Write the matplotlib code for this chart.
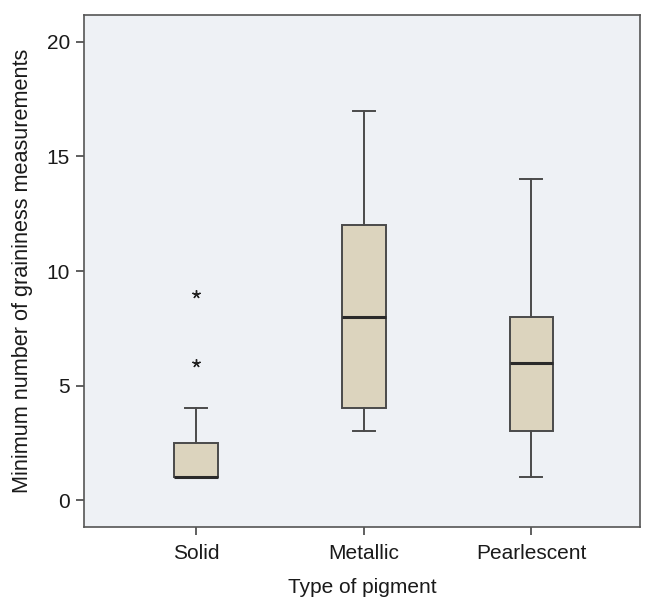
import matplotlib
matplotlib.use("Agg")
import matplotlib.pyplot as plt

plt.rcParams["font.family"] = ["Liberation Sans", "DejaVu Sans"]

categories = ["Solid", "Metallic", "Pearlescent"]
whisker_low = [1, 3, 1]
q1 = [1, 4, 3]
median = [1, 8, 6]
q3 = [2.5, 12, 8]
whisker_high = [4, 17, 14]
outliers = [[6, 9], [], []]
yticks = [0, 5, 10, 15, 20]

fig = plt.figure(figsize=(6.46, 5.97), dpi=100)
ax = fig.add_axes([0.130, 0.117, 0.861, 0.858])
ax.set_facecolor("#eef1f5")

stats = []
for i, c in enumerate(categories):
    stats.append(dict(label=c, whislo=whisker_low[i], q1=q1[i], med=median[i],
                      q3=q3[i], whishi=whisker_high[i], fliers=outliers[i]))

positions = [1, 2, 3]
ax.bxp(stats, positions=positions, widths=0.26, patch_artist=True,
       boxprops=dict(facecolor="#dcd4be", edgecolor="#4a4a4a", linewidth=1.4),
       medianprops=dict(color="#2a2a2a", linewidth=2.2),
       whiskerprops=dict(color="#4a4a4a", linewidth=1.4),
       capprops=dict(color="#4a4a4a", linewidth=1.4),
       flierprops=dict(marker=(5, 2, 0), markersize=6, markeredgecolor="#222222",
                       markerfacecolor="#222222", linestyle="none", markeredgewidth=1.0),
       capwidths=0.13)

ax.set_xlim(0.33, 3.65)
ax.set_ylim(-1.18, 21.18)
ax.set_yticks(yticks)
ax.set_xticks(positions)
ax.set_xticklabels(categories)
ax.tick_params(axis="both", labelsize=15, colors="#444444", length=6, width=1.2,
               labelcolor="#1a1a1a", pad=4)
ax.tick_params(axis="x", pad=6)
for s in ax.spines.values():
    s.set_color("#555555")
    s.set_linewidth(1.2)
ax.set_xlabel("Type of pigment", fontsize=15, color="#1a1a1a", labelpad=11)
ax.set_ylabel("Minimum number of graininess measurements", fontsize=15.6,
              color="#1a1a1a", labelpad=10)

fig.savefig("out.png", dpi=100)
